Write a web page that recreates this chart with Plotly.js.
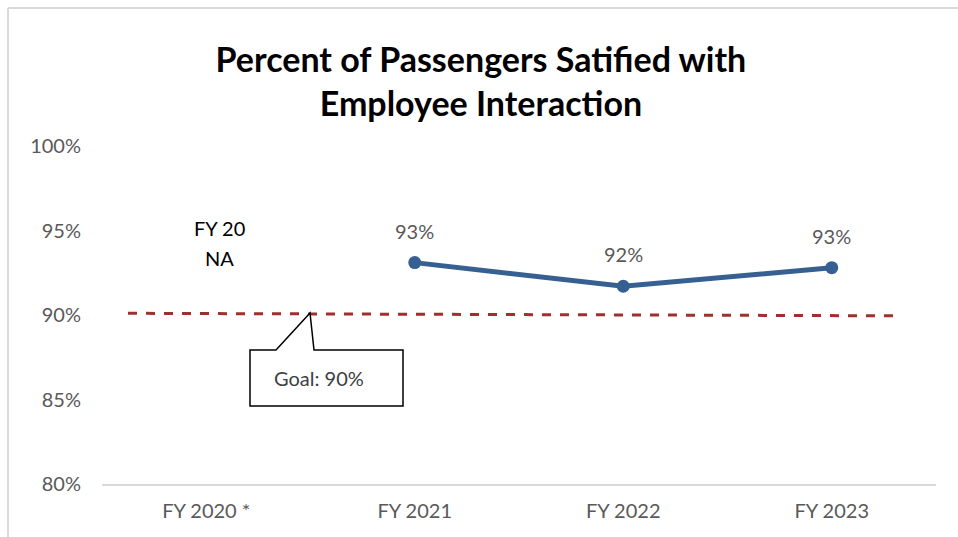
<!DOCTYPE html>
<html>
<head>
<meta charset="utf-8">
<script src="https://cdn.plot.ly/plotly-3.0.1.min.js"></script>
<style>html,body{margin:0;padding:0;background:#fff;}#chart{width:958px;height:537px;}</style>
</head>
<body>
<div id="chart"></div>
<script>
const categories = ["FY 2020 *", "FY 2021", "FY 2022", "FY 2023"];
const satisfied = [null, 93.1, 91.7, 92.8];
const valueLabels = ["", "93%", "92%", "93%"];
const goalStart = 90.1;
const goalEnd = 89.95;
const goalLabel = "Goal: 90%";
const yTicks = [80, 85, 90, 95, 100];
const yTickText = ["80%", "85%", "90%", "95%", "100%"];
const naNote = ["FY 20", "NA"];

const L = 102, R = 936, T = 146, B = 484, W = 958, H = 537;
const px = (x) => (x - L) / (R - L);          // pixel -> paper x
const py = (y) => (B - y) / (B - T);          // pixel -> paper y
const cx = (x) => (x - L) / (R - L) * 4 - 0.5; // pixel -> category coord
const vy = (y) => 80 + (B - y) / (B - T) * 20; // pixel -> value coord
const FONT = "Lato, 'Open Sans', sans-serif";

const xIdx = categories.map((c, i) => i);

const traces = [
  {
    x: xIdx, y: satisfied, type: "scatter", mode: "lines+markers",
    line: {color: "#376092", width: 5},
    marker: {color: "#376092", size: 13},
    hoverinfo: "skip", showlegend: false
  },
  {
    x: [cx(128), cx(900)], y: [goalStart, goalEnd], type: "scatter", mode: "lines",
    line: {color: "#A0302E", width: 3, dash: "dash"},
    hoverinfo: "skip", showlegend: false
  }
];

const callout = `M ${cx(250)},${vy(350)} L ${cx(276)},${vy(350)} L ${cx(310)},${vy(313)} L ${cx(314)},${vy(350)} L ${cx(403)},${vy(350)} L ${cx(403)},${vy(406)} L ${cx(250)},${vy(406)} Z`;

const labelAnns = xIdx.filter(i => satisfied[i] !== null).map(i => ({
  xref: "x", yref: "y", x: i, y: satisfied[i], text: valueLabels[i],
  showarrow: false, yshift: 32,
  font: {family: FONT, size: 20, color: "#595959"}
}));

const layout = {
  width: W, height: H,
  margin: {l: L, r: W - R, t: T, b: H - B, pad: 0},
  paper_bgcolor: "#fff", plot_bgcolor: "#fff",
  title: {
    text: "<b>Percent of Passengers Satified with<br>Employee Interaction</b>",
    font: {family: FONT, size: 34, color: "#000"},
    x: 0.502, xanchor: "center", y: 1 - 72 / H, yanchor: "middle"
  },
  xaxis: {
    type: "linear", range: [-0.5, 3.5],
    tickvals: xIdx, ticktext: categories, ticks: "",
    showgrid: false, zeroline: false,
    showline: true, linecolor: "#d9d9d9", linewidth: 2,
    ticklabelstandoff: 8,
    tickfont: {family: FONT, size: 20, color: "#595959"},
    fixedrange: true
  },
  yaxis: {
    range: [80, 100], tickvals: yTicks, ticktext: yTickText,
    showgrid: false, zeroline: false, showline: false, ticks: "",
    ticklabelstandoff: 20,
    tickfont: {family: FONT, size: 20, color: "#595959"},
    fixedrange: true
  },
  shapes: [
    {type: "line", xref: "paper", yref: "paper", x0: px(8), x1: px(958), y0: py(8), y1: py(8),
     line: {color: "#d9d9d9", width: 2}},
    {type: "line", xref: "paper", yref: "paper", x0: px(8), x1: px(8), y0: py(8), y1: py(537),
     line: {color: "#d9d9d9", width: 2}},
    {type: "path", xref: "x", yref: "y", path: callout,
     line: {color: "#000", width: 1.5}, fillcolor: "#fff", layer: "above"}
  ],
  annotations: labelAnns.concat([
    {xref: "x", yref: "y", x: cx(219), y: vy(228), text: naNote[0], showarrow: false,
     font: {family: FONT, size: 20, color: "#000"}},
    {xref: "x", yref: "y", x: cx(219), y: vy(258), text: naNote[1], showarrow: false,
     font: {family: FONT, size: 20, color: "#000"}},
    {xref: "x", yref: "y", x: cx(319), y: vy(378), text: goalLabel, showarrow: false,
     font: {family: FONT, size: 20, color: "#404040"}}
  ])
};

Plotly.newPlot("chart", traces, layout, {displayModeBar: false, staticPlot: true});
</script>
</body>
</html>
